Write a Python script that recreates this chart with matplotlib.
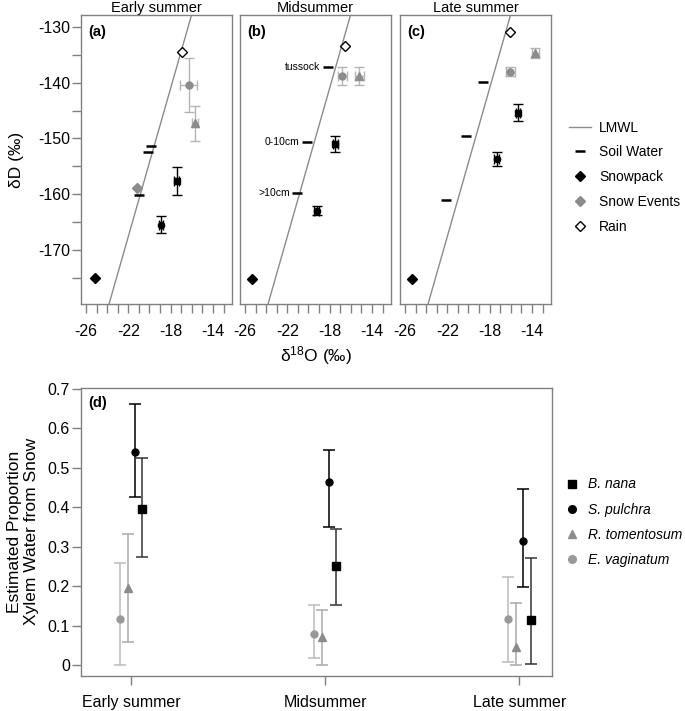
import numpy as np
import matplotlib as mpl
from matplotlib import pyplot as plt
from matplotlib.lines import Line2D

plt.rcParams["font.family"] = ["Liberation Sans", "DejaVu Sans"]
plt.rcParams["mathtext.fontset"] = "custom"
plt.rcParams["mathtext.rm"] = "Liberation Sans"
plt.rcParams["mathtext.it"] = "Liberation Sans:italic"

BOX = "#808080"
GRAY = "#8c8c8c"
LIGHT = "#b4b4b4"

seasons = ["Early summer", "Midsummer", "Late summer"]
tags = ["(a)", "(b)", "(c)"]

# local meteoric water line dD = slope * d18O + intercept
lmwl_slope = 6.65
lmwl_intercept = -21.3

# source waters, one value per season
rain_o = [-16.92, -16.57, -16.03]
rain_d = [-134.4, -133.35, -130.95]
snowpack_o = [-25.18, -25.37, -25.3]
snowpack_d = [-175.1, -175.3, -175.3]
snow_event_o = [-21.16]
snow_event_d = [-158.8]
soil_o = [[-19.9, -20.12, -20.97], [-18.2, -20.12, -21.07], [-18.64, -20.25, -22.1]]
soil_d = [[-151.3, -152.4, -160.1], [-137.2, -150.7, -159.7], [-139.8, -149.5, -161.0]]
soil_labels = ["tussock", "0-10cm", ">10cm"]

# xylem water isotopes (mean, error) per season
bnana_o = [-17.42, -17.45, -15.34]
bnana_oerr = [0.25, 0.2, 0.2]
bnana_d = [-157.6, -151.0, -145.4]
bnana_derr = [2.5, 1.4, 1.5]
spul_o = [-18.92, -19.24, -17.35]
spul_oerr = [0.2, 0.2, 0.2]
spul_d = [-165.5, -163.0, -153.7]
spul_derr = [1.5, 0.8, 1.3]
rtom_o = [-15.72, -15.19, -13.67]
rtom_oerr = [0.3, 0.42, 0.3]
rtom_d = [-147.3, -138.8, -134.7]
rtom_derr = [3.2, 1.6, 0.9]
evag_o = [-16.31, -16.79, -16.03]
evag_oerr = [0.79, 0.42, 0.4]
evag_d = [-140.4, -138.8, -138.0]
evag_derr = [4.8, 1.6, 0.8]

# mixing model: proportion of xylem water from snow
species = ["B. nana", "S. pulchra", "R. tomentosum", "E. vaginatum"]
prop_mean = {
    "B. nana": [0.396, 0.252, 0.115],
    "S. pulchra": [0.541, 0.463, 0.314],
    "R. tomentosum": [0.196, 0.070, 0.045],
    "E. vaginatum": [0.117, 0.079, 0.117],
}
prop_low = {
    "B. nana": [0.275, 0.152, 0.002],
    "S. pulchra": [0.427, 0.351, 0.197],
    "R. tomentosum": [0.058, 0.0, 0.0],
    "E. vaginatum": [0.0, 0.017, 0.007],
}
prop_high = {
    "B. nana": [0.524, 0.344, 0.271],
    "S. pulchra": [0.661, 0.545, 0.446],
    "R. tomentosum": [0.332, 0.139, 0.156],
    "E. vaginatum": [0.258, 0.152, 0.222],
}

W, H = 685, 711
fig = plt.figure(figsize=(W / 100, H / 100), dpi=100)


def style_box(ax):
    for s in ax.spines.values():
        s.set_color(BOX)
        s.set_linewidth(1)
    ax.tick_params(colors=BOX, labelcolor="black", length=6.5, width=1, labelsize=11.5)


lefts = [81, 240, 400]
for i, left in enumerate(lefts):
    ax = fig.add_axes([left / W, 1 - 304 / H, 151 / W, 289 / H])
    style_box(ax)
    ax.set_xlim(-26.47, -12.2)
    ax.set_ylim(-179.7, -127.85)
    ax.set_xticks(np.arange(-26, -12, 1))
    ax.set_xticklabels([str(v) if v % 4 == 2 else "" for v in range(-26, -12)])
    ax.tick_params(axis="x", pad=8)
    if i == 0:
        ax.set_yticks(np.arange(-175, -125, 5))
        ax.set_yticklabels([str(v) if v % 10 == 0 else "" for v in range(-175, -125, 5)])
        ax.tick_params(axis="y", pad=1.5)
    else:
        ax.set_yticks([])
    ax.set_title(seasons[i], fontsize=10.5, pad=0)
    ax.text(0.046, 0.94, tags[i], transform=ax.transAxes, fontsize=10.5,
            fontweight="bold", va="center")

    xs = np.array([-26.5, -12])
    ax.plot(xs, lmwl_slope * xs + lmwl_intercept, color=GRAY, lw=1, zorder=1)

    ebkw = dict(capsize=3.5, elinewidth=1, capthick=1, ls="none")
    ax.errorbar(evag_o[i], evag_d[i], xerr=evag_oerr[i], yerr=evag_derr[i],
                fmt="o", ms=5, color=GRAY, ecolor=LIGHT, **ebkw)
    ax.errorbar(rtom_o[i], rtom_d[i], xerr=rtom_oerr[i], yerr=rtom_derr[i],
                fmt="^", ms=6, color=GRAY, ecolor=LIGHT, **ebkw)
    ax.errorbar(bnana_o[i], bnana_d[i], xerr=bnana_oerr[i], yerr=bnana_derr[i],
                fmt="s", ms=5, color="black", ecolor="black", **ebkw)
    ax.errorbar(spul_o[i], spul_d[i], xerr=spul_oerr[i], yerr=spul_derr[i],
                fmt="o", ms=4.5, color="black", ecolor="black", **ebkw)

    ax.plot(soil_o[i], soil_d[i], ls="none", marker="_", ms=7.5, mew=1.8, color="black")
    if i == 1:
        for o, d, lab in zip(soil_o[i], soil_d[i], soil_labels):
            ax.text(o - 0.7, d, lab, ha="right", va="center", fontsize=7.5)
    if i == 0:
        ax.plot(snow_event_o, snow_event_d, ls="none", marker="D", ms=5.5, color=GRAY)
    ax.plot(snowpack_o[i], snowpack_d[i], marker="D", ms=5.5, color="black")
    ax.plot(rain_o[i], rain_d[i], marker="D", ms=5.5, mfc="white", mec="black", mew=1)

fig.text(316 / W, 1 - 356 / H, "δ$^{18}$O (‰)", ha="center", va="center", fontsize=12.5)
fig.text(17 / W, 1 - 160 / H, "δD (‰)", ha="center", va="center", rotation=90, fontsize=12.5)

top_handles = [
    Line2D([], [], color=GRAY, lw=1),
    Line2D([], [], ls="none", marker="_", ms=7.5, mew=1.8, color="black"),
    Line2D([], [], ls="none", marker="D", ms=5.5, color="black"),
    Line2D([], [], ls="none", marker="D", ms=5.5, color=GRAY),
    Line2D([], [], ls="none", marker="D", ms=5.5, mfc="white", mec="black"),
]
fig.legend(top_handles, ["LMWL", "Soil Water", "Snowpack", "Snow Events", "Rain"],
           loc="upper left", bbox_to_anchor=(556 / W, 1 - 108 / H), frameon=False,
           fontsize=10, handlelength=1.6, handletextpad=0.6, labelspacing=0.78)

# panel (d)
axd = fig.add_axes([81 / W, 1 - 676 / H, 470.7 / W, 288.3 / H])
style_box(axd)
axd.set_xlim(0.742, 3.167)
axd.set_ylim(-0.0279, 0.7033)
axd.set_yticks(np.arange(0, 0.71, 0.1))
axd.set_yticklabels(["0", "0.1", "0.2", "0.3", "0.4", "0.5", "0.6", "0.7"])
axd.tick_params(axis="y", pad=1.5)
axd.set_xticks([1, 2, 3])
axd.set_xticklabels(seasons)
axd.tick_params(axis="x", pad=7)
axd.text(0.015, 0.946, "(d)", transform=axd.transAxes, fontsize=10.5,
         fontweight="bold", va="center")
axd.set_ylabel("Estimated Proportion\nXylem Water from Snow", fontsize=12.5, labelpad=6)

pos = np.arange(1, 4)
offsets = {"E. vaginatum": -0.057, "R. tomentosum": -0.017, "S. pulchra": 0.02, "B. nana": 0.058}
styles = {
    "E. vaginatum": dict(fmt="o", ms=5, color="#999999", ecolor="#bbbbbb"),
    "R. tomentosum": dict(fmt="^", ms=6, color=GRAY, ecolor="#aaaaaa"),
    "S. pulchra": dict(fmt="o", ms=5, color="black", ecolor="black"),
    "B. nana": dict(fmt="s", ms=5.3, color="black", ecolor="#333333"),
}
for sp in ["E. vaginatum", "R. tomentosum", "S. pulchra", "B. nana"]:
    m = np.array(prop_mean[sp])
    err = [m - np.array(prop_low[sp]), np.array(prop_high[sp]) - m]
    axd.errorbar(pos + offsets[sp], m, yerr=err, capsize=4.5, elinewidth=1.1,
                 capthick=1.1, ls="none", **styles[sp])

d_handles = [
    Line2D([], [], ls="none", marker="s", ms=5.3, color="black"),
    Line2D([], [], ls="none", marker="o", ms=5.5, color="black"),
    Line2D([], [], ls="none", marker="^", ms=6, color=GRAY),
    Line2D([], [], ls="none", marker="o", ms=5.5, color="#999999"),
]
leg = fig.legend(d_handles, species, loc="upper left", bbox_to_anchor=(553 / W, 1 - 465 / H),
                 frameon=False, fontsize=10, handlelength=1.0, handletextpad=0.6,
                 labelspacing=0.8)
for t in leg.get_texts():
    t.set_fontstyle("italic")

fig.savefig("out.png", dpi=100)
